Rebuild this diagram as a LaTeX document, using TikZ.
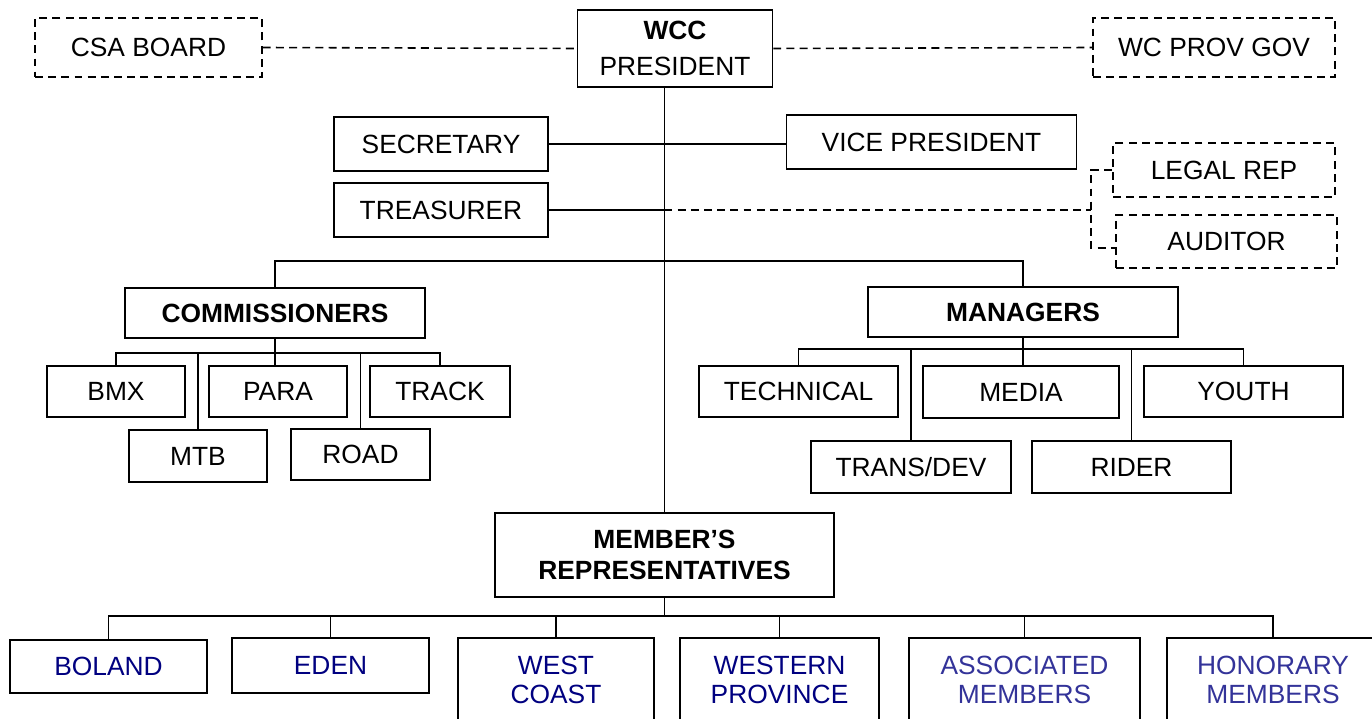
\documentclass[tikz,border=0pt]{standalone}
\usepackage{fontspec}
\setmainfont{Liberation Sans}
\usepackage{xcolor}
\usepackage{tikz}
\usetikzlibrary{positioning}
\definecolor{clubblue}{RGB}{0,0,128}
\definecolor{assocblue}{RGB}{51,51,153}

\begin{document}
\begin{tikzpicture}[
    x=0.02cm, y=-0.02cm,
    every node/.style={
        align=center,
        font=\fontsize{15}{16.5}\selectfont
    },
    box/.style={draw, line width=0.9pt, inner sep=0pt},
    dbox/.style={box, dash pattern=on 4.5pt off 3pt},
    link/.style={line width=0.9pt},
    dlink/.style={link, dash pattern=on 4.5pt off 3pt},
    club/.style={box, text=clubblue, minimum height=1.66cm},
    assoc/.style={box, text=assocblue, minimum height=1.66cm}
]
\clip (0,0) rectangle (1372,719);

% top row
\node (csa) [dbox, minimum width=4.54cm, minimum height=1.18cm] at (148.5,47.5) {CSA BOARD};
\node (pres) [box, minimum width=3.9cm, minimum height=1.54cm] at (675,48.5) {\textbf{WCC}\\[4pt]PRESIDENT};
\node (wcgov) [dbox, minimum width=4.84cm, minimum height=1.18cm] at (1214,47.5) {WC PROV GOV};

% executive
\node (sec) [box, minimum width=4.28cm, minimum height=1.08cm] at (441,144) {SECRETARY};
\node (vp) [box, minimum width=5.8cm, minimum height=1.08cm] at (931.5,142) {VICE PRESIDENT};
\node (treas) [box, minimum width=4.28cm, minimum height=1.08cm] at (441,210) {TREASURER};
\node (legal) [dbox, minimum width=4.44cm, minimum height=1.08cm] at (1224,170) {LEGAL REP};
\node (auditor) [dbox, minimum width=4.42cm, minimum height=1.06cm] at (1226.5,241.5) {AUDITOR};

% commissioners
\node (comm) [box, minimum width=6cm, minimum height=1cm] at (275,313) {\textbf{COMMISSIONERS}};
\node (bmx) [box, minimum width=2.76cm, minimum height=1.02cm] at (116,391.5) {BMX};
\node (para) [box, minimum width=2.76cm, minimum height=1.02cm] at (278,391.5) {PARA};
\node (track) [box, minimum width=2.8cm, minimum height=1.02cm] at (440,391.5) {TRACK};
\node (mtb) [box, minimum width=2.76cm, minimum height=1.04cm] at (198,456) {MTB};
\node (road) [box, minimum width=2.78cm, minimum height=1.02cm] at (360.5,454.5) {ROAD};

% managers
\node (mgr) [box, minimum width=6.2cm, minimum height=1cm] at (1023,312) {\textbf{MANAGERS}};
\node (tech) [box, minimum width=3.98cm, minimum height=1.02cm] at (798.5,391.5) {TECHNICAL};
\node (media) [box, minimum width=3.92cm, minimum height=1.04cm] at (1021,392) {MEDIA};
\node (youth) [box, minimum width=3.98cm, minimum height=1.02cm] at (1243.5,391.5) {YOUTH};
\node (trans) [box, minimum width=4cm, minimum height=1.04cm] at (911,467) {TRANS/DEV};
\node (rider) [box, minimum width=3.98cm, minimum height=1.04cm] at (1131.5,467) {RIDER};

% members
\node (memb) [box, minimum width=6.78cm, minimum height=1.68cm] at (664.5,555) {\textbf{MEMBER’S}\\[1.5pt]\textbf{REPRESENTATIVES}};
\node (boland) [club, minimum width=3.94cm, minimum height=1.06cm] at (108.5,666.5) {BOLAND};
\node (eden) [club, minimum width=3.94cm, minimum height=1.1cm] at (330.5,665.5) {EDEN};
\node (west) [club, minimum width=3.92cm] at (556,679.5) {WEST\\COAST};
\node (wprov) [club, minimum width=3.98cm] at (779.5,679.5) {WESTERN\\PROVINCE};
\node (assoc) [assoc, minimum width=4.62cm] at (1024.5,679.5) {ASSOCIATED\\MEMBERS};
\node (hon) [assoc, minimum width=4.24cm] at (1273,679.5) {HONORARY\\MEMBERS};

% president links
\draw[dlink] (csa.east) -- (pres.west);
\draw[dlink] (pres.east) -- (wcgov.west);
\draw[link] (memb.north |- pres.south) -- (memb.north);
\draw[link] (sec.east) -- (sec.east -| vp.west);

% treasurer to legal rep / auditor
\path (legal.west) ++(-21,0) coordinate (brk);
\draw[link] (treas.east) -- (treas.east -| memb.north);
\draw[dlink] (treas.east -| memb.north) -- (treas.east -| brk);
\draw[dlink] (legal.west) -- (brk) |- ([yshift=-0.13cm]auditor.west);

% commissioners and managers
\draw[link] (comm.north) -- ++(0,-26) -| (mgr.north);
\draw[link] (comm.south) -- (comm.south |- para.north);
\draw[link] (bmx.north) -- ++(0,-12) coordinate (cbus) -| (track.north);
\draw[link] (mtb.north) -- (mtb.north |- cbus);
\draw[link] (road.north) -- (road.north |- cbus);
\draw[link] (mgr.south) -- (mgr.south |- media.north);
\draw[link] (tech.north) -- ++(0,-16) coordinate (mbus2) -| (youth.north);
\draw[link] (trans.north) -- (trans.north |- mbus2);
\draw[link] (rider.north) -- (rider.north |- mbus2);

% member bodies
\draw[link] (boland.north) -- ++(0,-23) coordinate (mbus) -| (hon.north);
\draw[link] (memb.south) -- (memb.south |- mbus);
\foreach \n in {eden, west, wprov, assoc}
    \draw[link] (\n.north) -- (\n.north |- mbus);

\end{tikzpicture}
\end{document}
